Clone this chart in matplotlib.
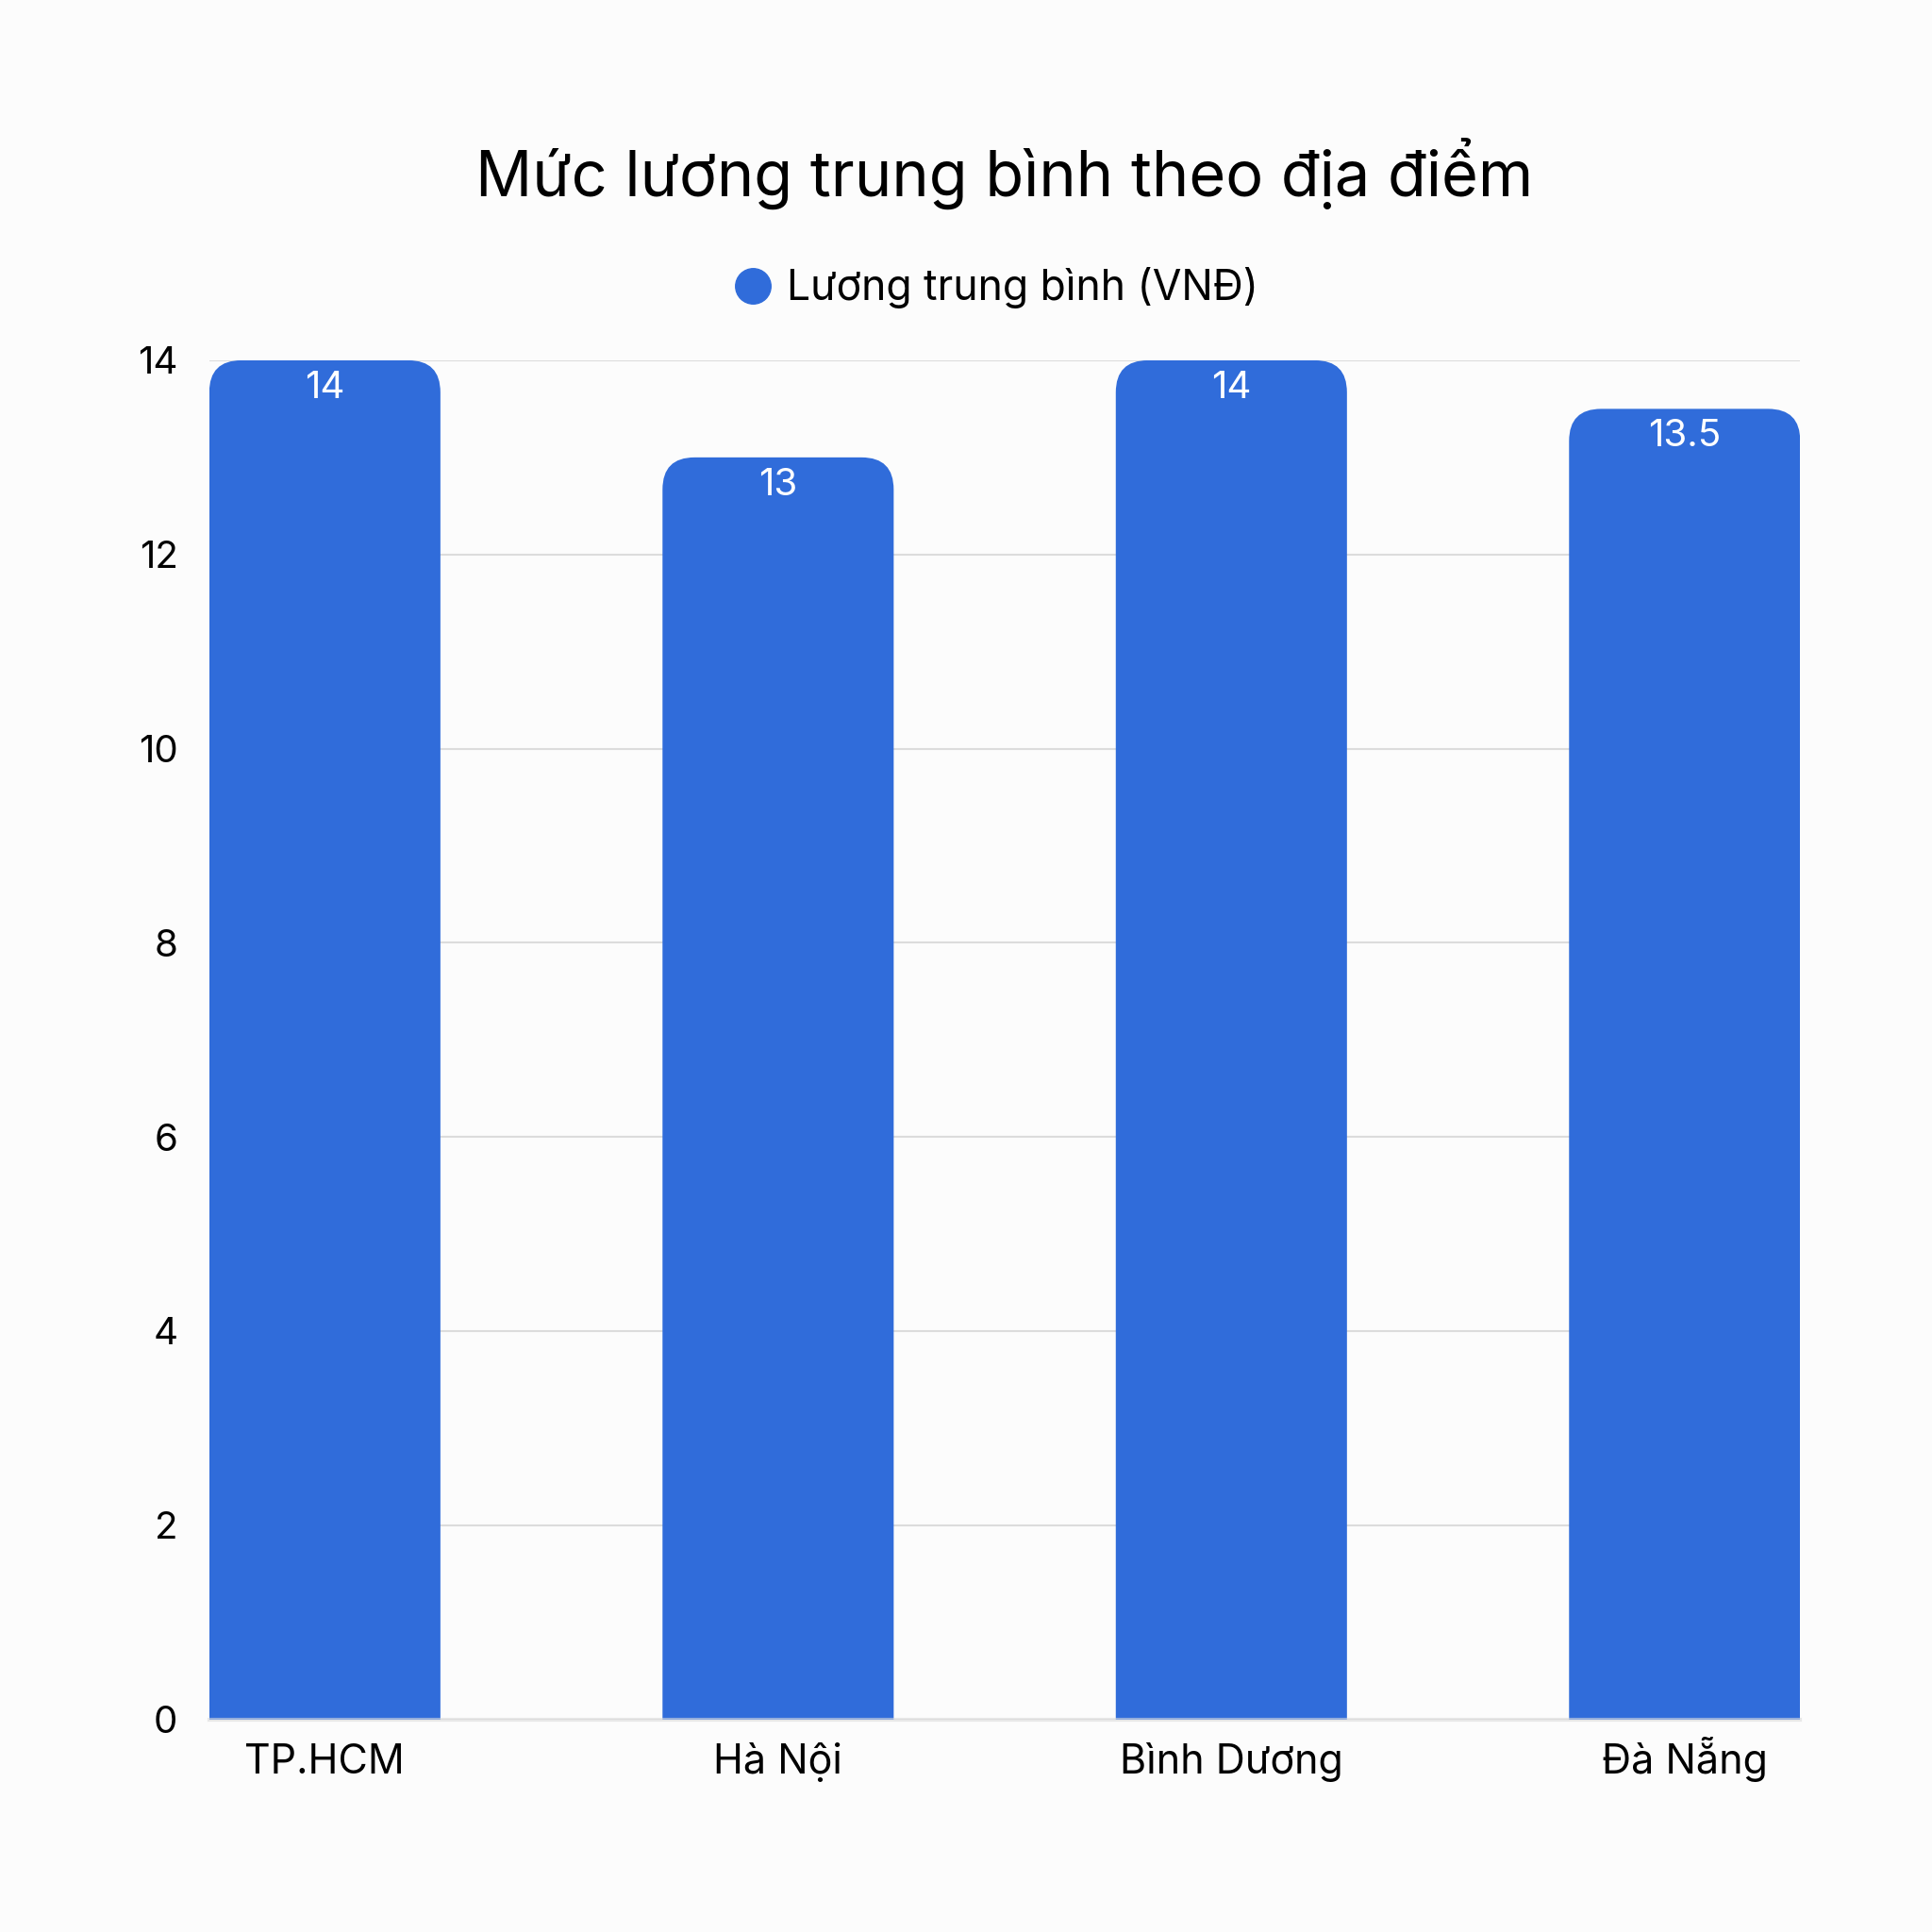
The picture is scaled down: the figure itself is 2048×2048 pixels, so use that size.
import matplotlib
matplotlib.use("Agg")
import matplotlib.pyplot as plt
from matplotlib.patches import FancyBboxPatch
from matplotlib.lines import Line2D

# data
locations = ["TP.HCM", "Hà Nội", "Bình Dương", "Đà Nẵng"]
salaries = [14, 13, 14, 13.5]
value_labels = ["14", "13", "14", "13.5"]
series_name = "Lương trung bình (VNĐ)"
title = "Mức lương trung bình theo địa điểm"
y_ticks = [0, 2, 4, 6, 8, 10, 12, 14]

bar_color = "#306CDA"
bg = "#FCFCFC"
grid_color = "#DCDCDC"

plt.rcParams["font.family"] = ["Inter", "DejaVu Sans"]

fig = plt.figure(figsize=(20.48, 20.48), dpi=100, facecolor=bg)
ax = fig.add_axes([0.1083, 0.1101, 0.8235, 0.7034])
ax.set_facecolor(bg)

x = list(range(len(locations)))
bars = ax.bar(x, salaries, width=0.51, color=bar_color, zorder=2)

ax.set_xlim(-0.255, 3.255)
ax.set_ylim(0, 14)

# rounded top corners (corner radius ~34 px)
px_x = ax.get_position().width * fig.get_figwidth() * fig.dpi / 3.51
px_y = ax.get_position().height * fig.get_figheight() * fig.dpi / 14
rx = 34 / px_x
ry = 34 / px_y
for b in bars:
    bx, bw, bh = b.get_x(), b.get_width(), b.get_height()
    b.set_visible(False)
    patch = FancyBboxPatch((bx, -ry), bw, bh + ry,
                           boxstyle=f"round,pad=0,rounding_size={rx}",
                           mutation_aspect=ry / rx,
                           facecolor=bar_color, edgecolor="none", zorder=2)
    ax.add_patch(patch)

for xi, v, lab in zip(x, salaries, value_labels):
    ax.annotate(lab, (xi, v), xytext=(0, -11), textcoords="offset pixels",
                ha="center", va="top", color="white", fontsize=29, zorder=3)

ax.set_yticks(y_ticks)
ax.set_yticklabels([str(t) for t in y_ticks])
ax.set_xticks(x)
ax.set_xticklabels(locations)
ax.tick_params(axis="y", length=0, pad=24, labelsize=29)
ax.tick_params(axis="x", length=0, pad=41.5, labelsize=31)
for lab in ax.get_xticklabels():
    lab.set_verticalalignment("baseline")

ax.grid(axis="y", color=grid_color, linewidth=1.5, zorder=0)
ax.set_axisbelow(True)
for s in ["top", "right", "left"]:
    ax.spines[s].set_visible(False)
ax.spines["bottom"].set_color(grid_color)
ax.spines["bottom"].set_linewidth(3)
ax.spines["bottom"].set_zorder(4)
ax.spines["bottom"].set_alpha(0.6)

fig.text(0.52, 0.910, title, ha="center", va="center", fontsize=48, color="black")

handle = Line2D([], [], marker="o", linestyle="none", markersize=27,
                markerfacecolor=bar_color, markeredgecolor=bar_color)
fig.legend([handle], [series_name], loc="center", bbox_to_anchor=(0.515, 0.851),
           frameon=False, fontsize=32, handletextpad=0.3, handlelength=1.0)

fig.savefig("out.png", dpi=100, facecolor=bg)
